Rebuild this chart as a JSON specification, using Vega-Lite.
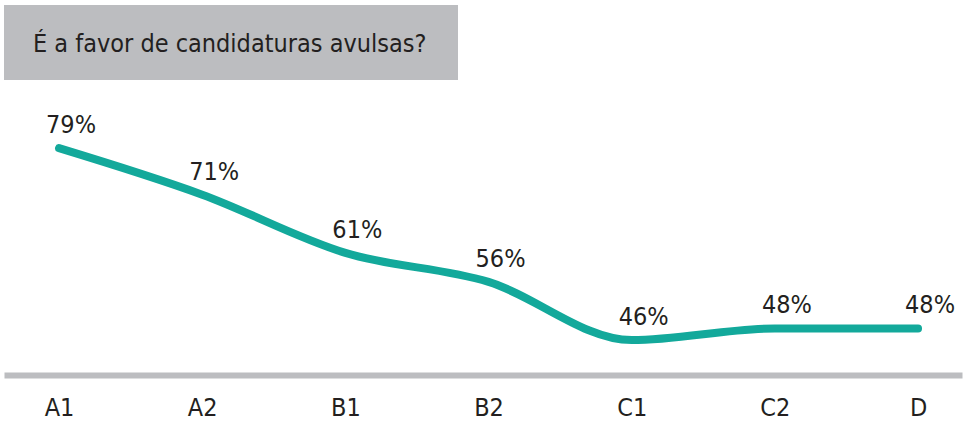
{
  "$schema": "https://vega.github.io/schema/vega-lite/v6.json",
  "background": "white",
  "padding": {"left": 4, "top": 5, "right": 1, "bottom": 0},
  "config": {"view": {"stroke": null}, "font": "DejaVu Sans Condensed, Roboto, sans-serif"},
  "spacing": 10,
  "vconcat": [
    {
      "width": 454,
      "height": 75,
      "view": {"fill": "#bcbdc0", "stroke": null},
      "data": {"values": [{"title": "É a favor de candidaturas avulsas?"}]},
      "mark": {"type": "text", "align": "left", "baseline": "middle", "dx": 29, "dy": 1, "fontSize": 25, "color": "#231f20", "font": "DejaVu Sans Condensed, Roboto, sans-serif"},
      "encoding": {
        "x": {"datum": 0, "type": "quantitative", "scale": {"domain": [0, 1]}, "axis": null},
        "y": {"datum": 0.5, "type": "quantitative", "scale": {"domain": [0, 1]}, "axis": null},
        "text": {"field": "title", "type": "nominal"}
      }
    },
    {
      "width": 958,
      "height": 285,
      "data": {"values": [
        {"grupo": "A1", "valor": 0.79},
        {"grupo": "A2", "valor": 0.71},
        {"grupo": "B1", "valor": 0.61},
        {"grupo": "B2", "valor": 0.56},
        {"grupo": "C1", "valor": 0.46},
        {"grupo": "C2", "valor": 0.48},
        {"grupo": "D", "valor": 0.48}
      ]},
      "encoding": {
        "x": {
          "field": "grupo", "type": "ordinal", "sort": null,
          "scale": {"type": "point", "padding": 0.3457, "align": 0.556},
          "axis": {"title": null, "labelAngle": 0, "ticks": false, "domainColor": "#bcbdc0", "domainWidth": 6, "labelFontSize": 25, "labelColor": "#231f20", "labelPadding": 20, "labelFont": "DejaVu Sans Condensed, Roboto, sans-serif"}
        },
        "y": {"field": "valor", "type": "quantitative", "scale": {"domain": [0.40, 0.89], "nice": false, "zero": false}, "axis": null}
      },
      "layer": [
        {"mark": {"type": "line", "interpolate": "monotone", "color": "#13a99b", "strokeWidth": 8, "strokeCap": "round", "strokeJoin": "round"}},
        {
          "mark": {"type": "text", "fontSize": 25, "color": "#231f20", "dx": 12, "dy": -23, "baseline": "middle", "font": "DejaVu Sans Condensed, Roboto, sans-serif"},
          "encoding": {"text": {"field": "valor", "type": "quantitative", "format": ".0%"}}
        }
      ]
    }
  ]
}
